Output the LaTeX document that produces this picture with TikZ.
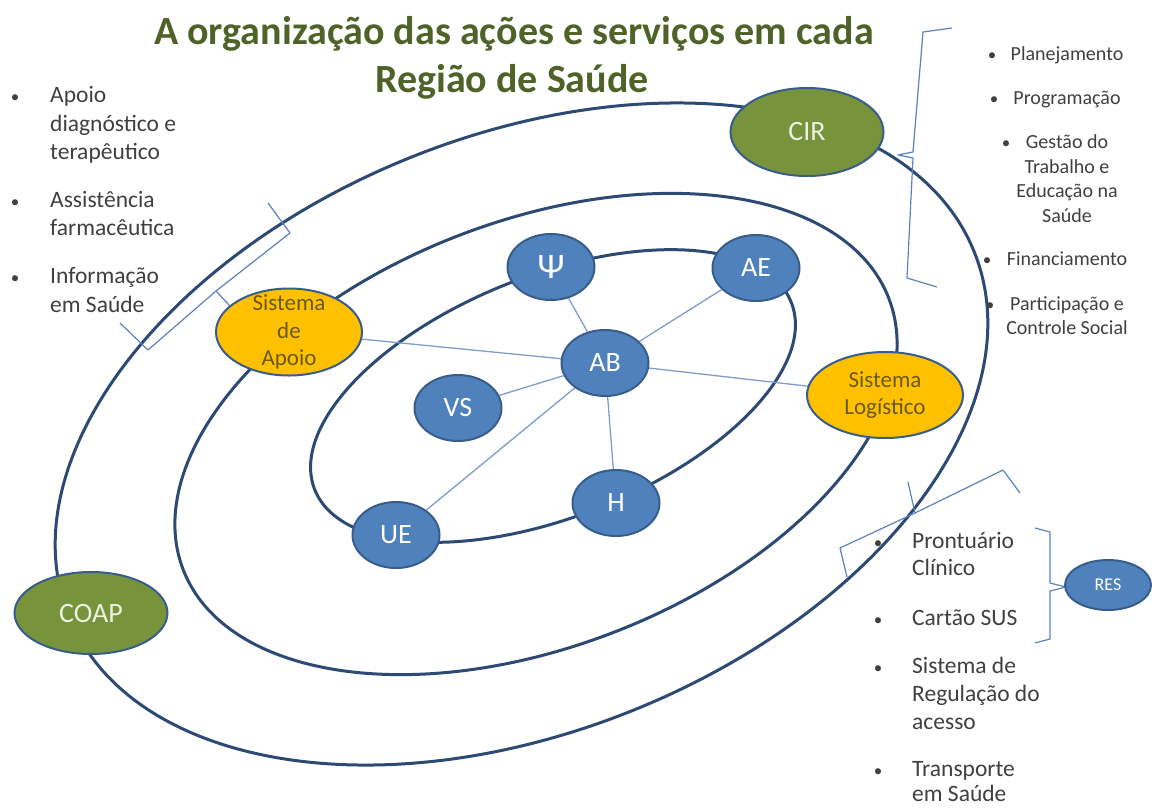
\documentclass[tikz,border=0pt]{standalone}
\usepackage{fontspec}
\setmainfont{Carlito}
\usetikzlibrary{shapes.geometric,backgrounds}
\definecolor{ringc}{RGB}{44,74,116}
\definecolor{nodeborder}{RGB}{56,93,138}
\definecolor{bluefill}{RGB}{79,129,189}
\definecolor{greenfill}{RGB}{119,147,60}
\definecolor{yellowfill}{RGB}{255,192,0}
\definecolor{titlec}{RGB}{79,98,40}
\definecolor{linkc}{RGB}{127,157,204}
\definecolor{bracec}{RGB}{92,130,188}
\definecolor{listc}{RGB}{64,64,64}
\definecolor{yellowtext}{RGB}{107,90,20}
\definecolor{greentext}{RGB}{235,241,222}
\begin{document}
\begin{tikzpicture}[x=1pt,y=-1pt,
  ring/.style={draw=ringc,line width=3pt},
  link/.style={draw=linkc,line width=1.3pt},
  bracel/.style={draw=bracec,line width=1.2pt,line join=round},
  oval/.style={ellipse,draw=nodeborder,line width=2pt,inner sep=0pt},
  bluen/.style={oval,fill=bluefill,minimum width=87pt,minimum height=66pt,text=white,font=\fontsize{28}{32}\selectfont},
  greenn/.style={oval,fill=greenfill,minimum width=153pt,text=greentext,font=\fontsize{28}{32}\selectfont},
  yellown/.style={oval,fill=yellowfill,inner ysep=-8pt,text=yellowtext,align=center,font=\fontsize{23}{27.5}\selectfont},
  listl/.style={anchor=base west,text=listc,inner sep=0pt,font=\fontsize{23.5}{28}\selectfont},
  listr/.style={anchor=base,text=listc,inner sep=0pt,font=\fontsize{20}{24}\selectfont},
  bul/.style={anchor=base,text=listc,inner sep=0pt,font=\fontsize{17}{20}\selectfont},
  titlet/.style={anchor=base,text=titlec,inner sep=0pt,font=\fontsize{40}{46}\selectfont\bfseries}
]
\useasboundingbox (0,0) rectangle (1152,807);

% title
\node[titlet] (t1) at (514,44) {A organização das ações e serviços em cada};
\node[titlet] (t2) at (512,92) {Região de Saúde};

% main nodes
\node[greenn,minimum height=88pt] (cir) at (807,132) {CIR};
\node[greenn,minimum height=82pt] (coap) at (91,613) {COAP};
\node[yellown,minimum width=146pt,minimum height=87pt] (sda) at (289,332) {Sistema\\de\\Apoio};
\node[yellown,minimum width=156pt,minimum height=86pt] (sl) at (885,395) {Sistema\\Logístico};
\node[bluen,font=\fontsize{36}{36}\selectfont] (psi) at (551,267) {Ψ};
\node[bluen] (ae) at (756,268) {AE};
\node[bluen] (ab) at (605,363) {AB};
\node[bluen] (vs) at (458,408) {VS};
\node[bluen] (h) at (616,503) {H};
\node[bluen] (ue) at (396,535) {UE};
\node[oval,fill=bluefill,minimum width=86pt,minimum height=50pt,text=white,font=\fontsize{18}{20}\selectfont] (res) at (1108,585) {RES};

% left list
\node[bul] (bl1) at (15,102) {•};
\node[listl] (l1a) at (50,102) {Apoio};
\node[listl] (l1b) at (50,131) {diagnóstico e};
\node[listl] (l1c) at (50,159) {terapêutico};
\node[bul] (bl2) at (15,207) {•};
\node[listl] (l2a) at (50,207) {Assistência};
\node[listl] (l2b) at (50,235) {farmacêutica};
\node[bul] (bl3) at (15,283) {•};
\node[listl] (l3a) at (50,283) {Informação};
\node[listl] (l3b) at (50,312) {em Saúde};

% top-right list
\node[bul] (br1) at (992,60) {•};
\node[listr] (r1) at (1067,60) {Planejamento};
\node[bul] (br2) at (994,104) {•};
\node[listr] (r2) at (1067,104) {Programação};
\node[bul] (br3) at (1006,148) {•};
\node[listr] (r3a) at (1067,148) {Gestão do};
\node[listr] (r3b) at (1067,173) {Trabalho e};
\node[listr] (r3c) at (1067,197) {Educação na};
\node[listr] (r3d) at (1067,222) {Saúde};
\node[bul] (br4) at (987,265) {•};
\node[listr] (r4) at (1067,265) {Financiamento};
\node[bul] (br5) at (990,310) {•};
\node[listr] (r5a) at (1067,310) {Participação e};
\node[listr] (r5b) at (1067,334) {Controle Social};

% bottom-right list
\node[bul] (bb1) at (878,548) {•};
\node[listl] (b1a) at (912,548) {Prontuário};
\node[listl] (b1b) at (912,575) {Clínico};
\node[bul] (bb2) at (878,625) {•};
\node[listl] (b2) at (912,625) {Cartão SUS};
\node[bul] (bb3) at (878,673) {•};
\node[listl] (b3a) at (912,673) {Sistema de};
\node[listl] (b3b) at (912,701) {Regulação do};
\node[listl] (b3c) at (912,729) {acesso};
\node[bul] (bb4) at (878,776) {•};
\node[listl] (b4a) at (912,776) {Transporte};
\node[listl] (b4b) at (912,801) {em Saúde};

\begin{pgfonlayer}{background}
  \fill[white] (0,0) rectangle (1152,807);
  % rings
  \draw[ring,rotate around={21.9:(521.5,434)}] (521.5,434) ellipse [x radius=488pt,y radius=298pt];
  \draw[ring,rotate around={21:(536,434)}] (536,434) ellipse [x radius=378pt,y radius=213pt];
  \draw[ring,rotate around={21.4:(553,396)}] (553,396) ellipse [x radius=256pt,y radius=121pt];
  % links
  \draw[link] (ab) -- (psi);
  \draw[link] (ab) -- (ae);
  \draw[link] (ab) -- (sda);
  \draw[link] (ab) -- (vs);
  \draw[link] (ab) -- (ue);
  \draw[link] (ab) -- (h);
  \draw[link] (ab) -- (sl);
  % braces
  \draw[bracel] (268,203) -- (290,233) -- (216,291) -- (148,350) -- (120,323);
  \draw[bracel] (216,291) -- (230,306);
  \draw[bracel] (952,28) -- (923,32) -- (913,152) -- (898,155) -- (913,158) -- (907,278) -- (937,287);
  \draw[bracel] (847,577) -- (840,548) -- (915,513) -- (1003,470) -- (1020,493);
  \draw[bracel] (915,513) -- (908,482);
  \draw[bracel] (1035,528) -- (1050,532) -- (1050,583) -- (1066,587) -- (1050,591) -- (1050,639) -- (1035,643);
\end{pgfonlayer}
\end{tikzpicture}
\end{document}
